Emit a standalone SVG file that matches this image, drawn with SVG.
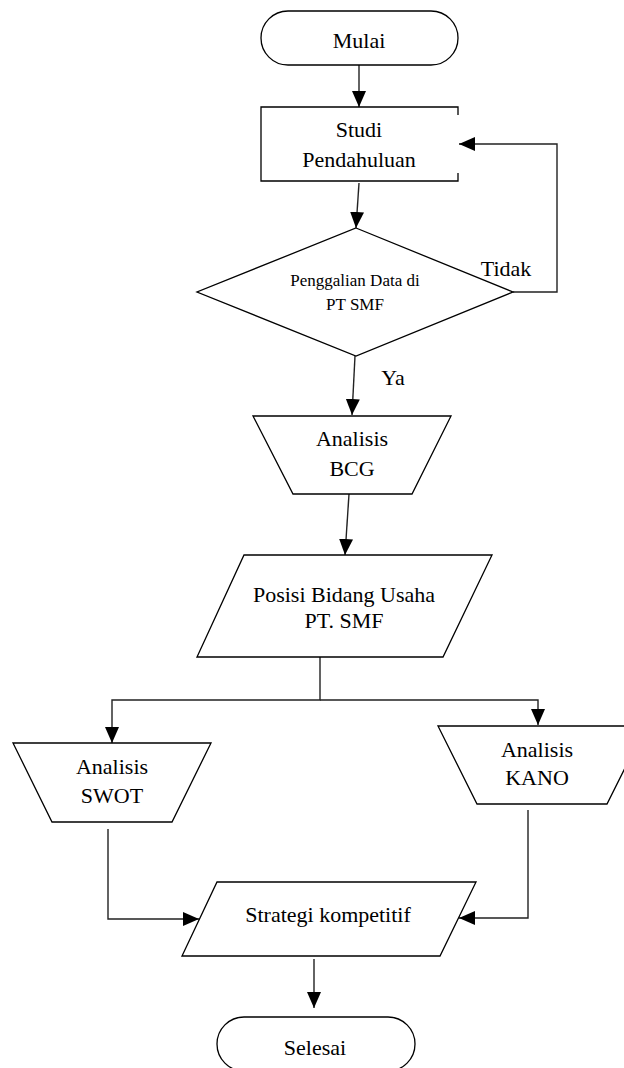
<svg xmlns="http://www.w3.org/2000/svg" width="624" height="1068" viewBox="0 0 624 1068">
<style>
.s{fill:#fff;stroke:#000;stroke-width:1.3}
.c{fill:none;stroke:#222;stroke-width:1.4}
text{font-family:'Liberation Serif','Times New Roman','DejaVu Serif',serif;font-size:22px;fill:#000;text-anchor:middle}
.sm{font-size:17px}
</style>
<defs>
<marker id="ah" markerUnits="userSpaceOnUse" markerWidth="16" markerHeight="14" refX="16" refY="7" orient="auto">
<path d="M0,0 L16,7 L0,14 z" fill="#000"/>
</marker>
</defs>
<rect width="624" height="1068" fill="#fff"/>
<g id="connectors">
<line class="c" x1="359" y1="65" x2="359" y2="107" marker-end="url(#ah)"/>
<line class="c" x1="359" y1="183" x2="356" y2="228" marker-end="url(#ah)"/>
<polyline class="c" points="513,292 557,292 557,144 459,144" marker-end="url(#ah)"/>
<line class="c" x1="355" y1="356" x2="352" y2="415" marker-end="url(#ah)"/>
<line class="c" x1="349" y1="494" x2="345" y2="555" marker-end="url(#ah)"/>
<polyline class="c" points="320,657 320,700 112,700 112,743" marker-end="url(#ah)"/>
<polyline class="c" points="320,700 538,700 538,725" marker-end="url(#ah)"/>
<polyline class="c" points="108,829 108,919 199,919" marker-end="url(#ah)"/>
<polyline class="c" points="528,810 528,918 459,918" marker-end="url(#ah)"/>
<line class="c" x1="314" y1="959" x2="314" y2="1008" marker-end="url(#ah)"/>
</g>
<g font-family="Liberation Serif, serif">
<g id="mulai">
<rect class="s" x="261" y="11" width="197" height="54" rx="27" ry="27"/>
<text x="359" y="48">Mulai</text>
</g>
<g id="studi">
<path class="s" d="M458,115 L458,107 L261,107 L261,181 L458,181 L458,173"/>
<text x="359" y="137">Studi</text>
<text x="359" y="167">Pendahuluan</text>
</g>
<g id="penggalian">
<polygon class="s" points="356,228 513,292 356,356 197,292"/>
<text class="sm" x="355" y="286">Penggalian Data di</text>
<text class="sm" x="355" y="310">PT SMF</text>
</g>
<g id="label-tidak"><text x="506" y="276">Tidak</text></g>
<g id="label-ya"><text x="393" y="385">Ya</text></g>
<g id="bcg">
<polygon class="s" points="253,416 451,416 412,494 293,494"/>
<text x="352" y="446">Analisis</text>
<text x="352" y="476">BCG</text>
</g>
<g id="posisi">
<polygon class="s" points="244,555 492,555 443,657 197,657"/>
<text x="344" y="602">Posisi Bidang Usaha</text>
<text x="344" y="628">PT. SMF</text>
</g>
<g id="swot">
<polygon class="s" points="13,743 211,743 172,822 52,822"/>
<text x="112" y="774">Analisis</text>
<text x="112" y="803">SWOT</text>
</g>
<g id="kano">
<polygon class="s" points="438,726 646,726 607,804 477,804"/>
<text x="537" y="757">Analisis</text>
<text x="537" y="785">KANO</text>
</g>
<g id="strategi">
<polygon class="s" points="217,882 476,882 440,956 182,956"/>
<text x="328" y="922">Strategi kompetitif</text>
</g>
<g id="selesai">
<rect class="s" x="217" y="1017" width="198" height="54" rx="27" ry="27"/>
<text x="315" y="1055">Selesai</text>
</g>
</g>
</svg>
